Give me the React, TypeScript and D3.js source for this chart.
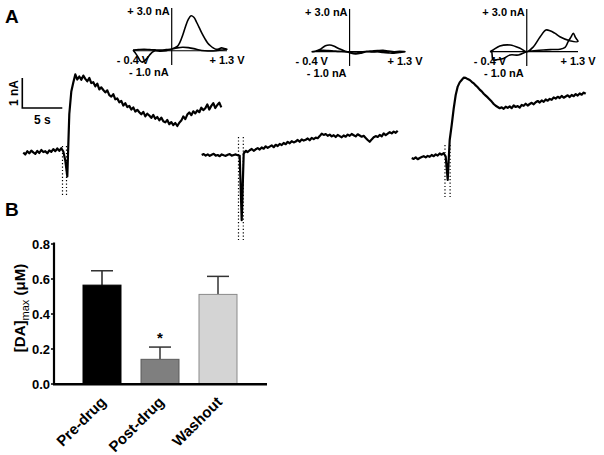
import React from "react";
import * as d3 from "d3";

// ---------- Panel A: amperometric traces (nA), sampled every 0.25 s ----------
const TRACE_DT = 0.25;
const tracePre = [
  0.02, -0.05, 0.06, -0.01, 0.08, 0.02, -0.03, 0.07, 0.0, 0.1,
  0.03, 0.06, -0.01, 0.09, 0.04, 0.13, 0.06, 0.15, 0.07, 0.16,
  0.05, -0.25, -0.78, 1.3, 2.05, 2.35, 2.62, 2.45, 2.55, 2.44,
  2.58, 2.47, 2.39, 2.5, 2.33, 2.36, 2.22, 2.31, 2.12, 2.19,
  2.1, 2.02, 2.09, 1.93, 1.88, 1.96, 1.79, 1.82, 1.69, 1.74,
  1.58, 1.66, 1.53, 1.57, 1.45, 1.52, 1.38, 1.44, 1.36, 1.29,
  1.37, 1.22, 1.31, 1.25, 1.17, 1.27, 1.14, 1.2, 1.09, 1.18,
  1.06, 1.02, 1.1, 0.96, 1.03, 0.93, 1.0, 0.9, 1.01, 1.08,
  1.22, 1.13, 1.28, 1.35, 1.26, 1.39, 1.32, 1.42, 1.36, 1.51,
  1.43, 1.49, 1.62, 1.45, 1.57, 1.66, 1.5, 1.6, 1.68, 1.52,
];
const tracePost = [
  0.0, 0.03, -0.02, 0.02, -0.03, 0.01, 0.04, -0.02, 0.0, -0.04,
  0.02, -0.01, -0.03, 0.01, 0.03, -0.02, 0.0, 0.02, -0.01, -0.03,
  -2.17, 0.05, 0.14, 0.1, 0.16, 0.2, 0.14, 0.19, 0.23, 0.18,
  0.25, 0.21, 0.29, 0.24, 0.28, 0.32, 0.26, 0.34, 0.3, 0.37,
  0.33, 0.4, 0.36, 0.44, 0.39, 0.46, 0.42, 0.45, 0.5, 0.44,
  0.52, 0.48, 0.51, 0.55, 0.49, 0.57, 0.53, 0.58, 0.56, 0.63,
  0.71, 0.67, 0.7, 0.64, 0.68, 0.62, 0.66, 0.6, 0.67, 0.63,
  0.59, 0.65, 0.61, 0.68, 0.64, 0.7, 0.66, 0.62, 0.69, 0.65,
  0.61, 0.64, 0.57, 0.5, 0.44, 0.52, 0.59, 0.63, 0.6, 0.67,
  0.62, 0.72, 0.66, 0.71, 0.76, 0.72, 0.78, 0.74, 0.81,
];
const traceWash = [
  0.0, -0.03, 0.02, -0.04, 0.0, 0.03, 0.06, 0.02, 0.07, 0.04,
  0.1, 0.06, 0.12, 0.08, 0.15, 0.11, 0.16, 0.05, -0.73, 0.6,
  1.1, 1.65, 2.1, 2.38, 2.52, 2.6, 2.68, 2.67, 2.63, 2.6,
  2.54, 2.49, 2.42, 2.36, 2.28, 2.22, 2.14, 2.08, 2.02, 1.95,
  1.88, 1.8, 1.74, 1.7, 1.66, 1.69, 1.64, 1.71, 1.67, 1.72,
  1.66, 1.75, 1.7, 1.73, 1.68, 1.77, 1.74, 1.81, 1.75, 1.8,
  1.84, 1.79, 1.86, 1.9, 1.85, 1.92, 1.87, 1.95, 1.91, 1.97,
  1.94, 2.02, 1.98, 2.04, 2.0, 2.07, 2.01, 2.05, 2.09, 2.03,
  2.1, 2.06, 2.13, 2.08, 2.15, 2.11, 2.18, 2.14,
];
// stimulation markers (s) and their vertical extent (nA)
const stimPre = [4.9, 5.4];
const stimPost = [4.6, 5.2];
const stimWash = [4.16, 4.8];
const stimRangePre = [0.23, -1.47];
const stimRangePost = [0.6, -2.83];
const stimRangeWash = [0.43, -1.3];

// ---------- Panel A insets: cyclic voltammograms (V, nA) ----------
const cvPreV = [-0.4, -0.3, -0.2, -0.1, 0.0, 0.1, 0.2, 0.3, 0.4, 0.45, 0.5, 0.55, 0.6, 0.65, 0.7, 0.75, 0.8, 0.85, 0.9, 0.95, 1.0, 1.05, 1.1, 1.15, 1.2, 1.25, 1.3,
  1.2, 1.1, 1.0, 0.9, 0.8, 0.7, 0.6, 0.5, 0.4, 0.3, 0.2, 0.1, 0.0, -0.05, -0.1, -0.15, -0.2, -0.23, -0.27, -0.3, -0.35, -0.4];
const cvPreI = [0.05, 0.08, 0.1, 0.08, 0.06, 0.05, 0.08, 0.12, 0.3, 0.6, 1.1, 1.7, 2.2, 2.45, 2.35, 2.0, 1.6, 1.2, 0.85, 0.55, 0.35, 0.2, 0.1, 0.12, 0.2, 0.15, 0.1,
  0.05, 0.0, -0.02, 0.0, 0.05, 0.15, 0.22, 0.25, 0.2, 0.1, 0.0, -0.03, 0.0, -0.1, -0.3, -0.55, -0.72, -0.8, -0.7, -0.5, -0.2, 0.05];
const cvPostV = [-0.4, -0.3, -0.2, -0.1, 0.0, 0.1, 0.2, 0.3, 0.4, 0.5, 0.6, 0.7, 0.8, 0.9, 1.0, 1.1, 1.2, 1.3,
  1.2, 1.1, 1.0, 0.9, 0.8, 0.7, 0.6, 0.5, 0.4, 0.3, 0.2, 0.1, 0.0, -0.07, -0.15, -0.25, -0.35, -0.4];
const cvPostI = [0.0, 0.05, 0.1, 0.08, 0.05, 0.02, 0.0, -0.05, -0.1, -0.02, 0.02, 0.05, 0.08, 0.1, 0.05, 0.0, 0.02, 0.0,
  -0.05, -0.1, -0.08, -0.05, 0.0, -0.02, 0.0, -0.1, -0.15, -0.08, 0.05, 0.2, 0.4, 0.47, 0.42, 0.15, 0.02, 0.0];
const cvWashV = [-0.4, -0.37, -0.34, -0.25, -0.14, -0.01, 0.15, 0.31, 0.45, 0.63, 0.8, 0.95, 1.05, 1.11, 1.16, 1.21, 1.25, 1.3,
  1.14, 0.95, 0.85, 0.76, 0.68, 0.57, 0.44, 0.31, 0.18, -0.01, -0.21, -0.34, -0.4];
const cvWashI = [0.0, 0.0, -0.58, -0.55, -0.47, -0.23, -0.23, 0.0, 0.06, 0.12, 0.15, 0.17, 0.3, 0.7, 1.0, 1.29, 1.0, 0.72,
  0.77, 1.05, 1.3, 1.47, 1.52, 1.05, 0.35, 0.0, 0.24, 0.47, 0.4, 0.12, 0.0];
const cvAxisV = [0.3, 0.29, 0.31];
const cvLabels = ["+ 3.0 nA", "- 1.0 nA", "- 0.4 V", "+ 1.3 V"];

// ---------- Panel B: bar chart ----------
const categories = ["Pre-drug", "Post-drug", "Washout"];
const means = [0.565, 0.141, 0.512];
const sems = [0.082, 0.07, 0.103];
const significance = ["", "*", ""];
const yTicks = [0.0, 0.2, 0.4, 0.6, 0.8];

const FONT = "'Liberation Sans', Arial, Helvetica, sans-serif";

export default function App() {
  // trace layouts: 8 px per s, 30 px per nA
  const traceDefs = [
    { data: tracePre, x0: 23.3, y0: 153, stim: stimPre, range: stimRangePre },
    { data: tracePost, x0: 201.7, y0: 155, stim: stimPost, range: stimRangePost },
    { data: traceWash, x0: 411.7, y0: 158, stim: stimWash, range: stimRangeWash },
  ];
  const cvDefs = [
    { V: cvPreV, I: cvPreI, left: 133, width: 94, y0: 50.75, axisV: cvAxisV[0] },
    { V: cvPostV, I: cvPostI, left: 311.7, width: 93.3, y0: 51.7, axisV: cvAxisV[1] },
    { V: cvWashV, I: cvWashI, left: 490, width: 88, y0: 51.7, axisV: cvAxisV[2] },
  ];

  // scale bar scales (same as trace 1)
  const sbX = d3.scaleLinear().domain([0, 1]).range([22.3, 30.3]);
  const sbY = d3.scaleLinear().domain([0, 1]).range([108, 78]);

  // bar chart scales
  const y = d3.scaleLinear().domain([0, 0.8]).range([384, 244]);
  const x = d3.scaleBand<string>().domain(categories).range([73, 247]).paddingInner(0.345).paddingOuter(0.1725);
  const barFill = ["#000000", "#7f7f7f", "#d4d4d4"];
  const barStroke = ["#000000", "#5a5a5a", "#8a8a8a"];

  return (
    <svg width={604} height={455} style={{ position: "absolute", left: 0, top: 0, background: "#fff" }} fontFamily={FONT}>
      <rect width={604} height={455} fill="#fff" />
      {/* Panel labels */}
      <text x={5} y={23} fontSize={19} fontWeight="bold">A</text>
      <text x={5} y={216} fontSize={19} fontWeight="bold">B</text>

      {/* Scale bar */}
      <path
        d={`M${sbX(0)},${sbY(1)}V${sbY(0)}H${sbX(5)}`}
        fill="none" stroke="#000" strokeWidth={1.6}
      />
      <text transform={`translate(${sbX(0) - 4},${(sbY(0) + sbY(1)) / 2}) rotate(-90)`} textAnchor="middle" fontSize={12} fontWeight="bold">1 nA</text>
      <text x={(sbX(0) + sbX(5)) / 2} y={124} textAnchor="middle" fontSize={12} fontWeight="bold">5 s</text>

      {/* Traces */}
      {traceDefs.map((t, k) => {
        const xs = d3.scaleLinear().domain([0, 1]).range([t.x0, t.x0 + 8]);
        const ys = d3.scaleLinear().domain([0, 1]).range([t.y0, t.y0 - 30]);
        const line = d3.line<number>().x((_, i) => xs(i * TRACE_DT)).y((v) => ys(v));
        return (
          <g key={k}>
            {t.stim.map((s, j) => (
              <line key={j} x1={xs(s)} x2={xs(s)} y1={ys(t.range[0])} y2={ys(t.range[1])}
                stroke="#000" strokeWidth={1.2} strokeDasharray="1.2,2.2" />
            ))}
            <path d={line(t.data) || ""} fill="none" stroke="#000" strokeWidth={2.2} strokeLinejoin="round" />
          </g>
        );
      })}

      {/* CV insets */}
      {cvDefs.map((c, k) => {
        const xs = d3.scaleLinear().domain([-0.4, 1.3]).range([c.left, c.left + c.width]);
        const ys = d3.scaleLinear().domain([0, 1]).range([c.y0, c.y0 - 14.25]);
        const line = d3.line<number>().x((v) => xs(v)).y((_, i) => ys(c.I[i])).curve(d3.curveCatmullRom);
        const ax = xs(c.axisV);
        return (
          <g key={k}>
            <line x1={xs(-0.4)} x2={xs(1.3)} y1={ys(0)} y2={ys(0)} stroke="#000" strokeWidth={1.2} />
            <line x1={ax} x2={ax} y1={ys(3)} y2={ys(-1)} stroke="#000" strokeWidth={1.2} />
            <path d={line(c.V) || ""} fill="none" stroke="#000" strokeWidth={1.6} strokeLinejoin="round" />
            <text x={ax - 2} y={ys(2.8) + 4} textAnchor="end" fontSize={11} fontWeight="bold">{cvLabels[0]}</text>
            <text x={ax - 3} y={ys(0) + 25.5} textAnchor="end" fontSize={11} fontWeight="bold">{cvLabels[1]}</text>
            <text x={xs(-0.4)} y={ys(0) + 13.5} textAnchor="middle" fontSize={11} fontWeight="bold">{cvLabels[2]}</text>
            <text x={xs(1.3)} y={ys(0) + 13.5} textAnchor="middle" fontSize={11} fontWeight="bold">{cvLabels[3]}</text>
          </g>
        );
      })}

      {/* Panel B bars */}
      {categories.map((c, i) => {
        const bx = x(c) as number;
        const bw = x.bandwidth();
        const cx = bx + bw / 2;
        return (
          <g key={c}>
            <line x1={cx} x2={cx} y1={y(means[i])} y2={y(means[i] + sems[i])} stroke={i === 0 ? "#222" : "#333"} strokeWidth={1.5} />
            <line x1={cx - 11} x2={cx + 11} y1={y(means[i] + sems[i])} y2={y(means[i] + sems[i])} stroke="#333" strokeWidth={1.5} />
            <rect x={bx} y={y(means[i])} width={bw} height={y(0) - y(means[i])} fill={barFill[i]} stroke={barStroke[i]} strokeWidth={1} />
            {significance[i] && (
              <text x={cx} y={y(means[i] + sems[i]) - 4} textAnchor="middle" fontSize={15} fontWeight="bold">{significance[i]}</text>
            )}
            <text transform={`translate(${cx + 5},${403}) rotate(-45)`} textAnchor="end" fontSize={15} fontWeight="bold">{c}</text>
          </g>
        );
      })}

      {/* Axes */}
      <line x1={54} x2={54} y1={242.5} y2={385} stroke="#000" strokeWidth={2.2} />
      <line x1={53} x2={267} y1={384.3} y2={384.3} stroke="#000" strokeWidth={2.6} />
      {yTicks.map((t) => (
        <g key={t}>
          <line x1={51} x2={54} y1={y(t)} y2={y(t)} stroke="#000" strokeWidth={1.5} />
          <text x={50} y={y(t) + 4.6} textAnchor="end" fontSize={13} fontWeight="bold">{t.toFixed(1)}</text>
        </g>
      ))}
      <text transform="translate(25,308) rotate(-90)" textAnchor="middle" fontSize={15} fontWeight="bold">
        [DA]<tspan fontSize={11} fontWeight="normal" dy={4}>max</tspan><tspan dy={-4}> (μM)</tspan>
      </text>
    </svg>
  );
}
